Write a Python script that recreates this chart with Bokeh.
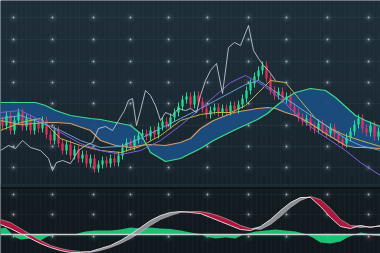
import numpy as np
from bokeh.plotting import figure
from bokeh.models import Range1d, FixedTicker, Span
from bokeh.embed import file_html
from bokeh.resources import INLINE

# ---------------- data ----------------
# candle closes (one bar every 4 time units, starting at t=2)
CLOSE = [75, 85, 70, 80, 88, 74, 82, 70, 78, 72,
         80, 66, 60, 70, 57, 50, 56, 45, 51, 42,
         46, 37, 42, 32, 36, 40, 37, 42, 38, 45,
         53, 58, 54, 61, 65, 67, 64, 70, 66, 74,
         79, 76, 83, 88, 94, 101, 104, 96, 105, 99,
         92, 86, 90, 93, 88, 92, 89, 95, 91, 96,
         102, 110, 117, 124, 130, 135, 122, 110, 105, 109,
         101, 104, 94, 88, 83, 79, 82, 74, 71, 77,
         71, 67, 73, 66, 61, 57, 63, 69, 76, 82,
         72, 68, 75, 64, 69]
FIRST_OPEN = 80

# Ichimoku cloud (senkou span A / B)
CLOUD_T = [0, 20, 35, 45, 55, 70, 90, 100, 115, 130, 140, 150, 165, 180, 190, 200, 213,
           233, 257, 267, 275, 285, 295, 310, 325, 335, 345, 355, 365, 380]
SPAN_A = [98, 98, 98, 95, 90, 85, 82, 81, 78, 75, 67, 48, 39, 42, 47, 52, 60,
          70, 81, 87, 94, 102, 108, 112, 110, 103, 94, 85, 80, 74]
SPAN_B = [80, 76, 77, 78, 78, 77, 70, 60, 55, 53, 55, 56, 55, 58, 62, 72, 80,
          88, 92, 93, 92, 88, 85, 77, 67, 61, 55, 53, 53, 52]

# moving-average style lines
LINE_T = [0, 20, 40, 60, 80, 100, 120, 140, 160, 180, 200, 215, 230, 245, 258, 270,
          285, 300, 315, 330, 345, 360, 380]
PURPLE = [88, 90, 80, 68, 57, 50, 46, 50, 60, 75, 92, 105, 118, 125, 118, 110,
          97, 82, 70, 60, 50, 38, 25]
LIGHTBLUE = [82, 85, 78, 70, 60, 53, 54, 62, 72, 82, 92, 100, 108, 116, 120, 112,
             102, 92, 82, 72, 62, 55, 50]
OLIVE = [70, 78, 82, 62, 55, 50, 48, 54, 65, 80, 86, 88, 88, 95, 108, 120,
         118, 100, 82, 72, 65, 60, 54]

# lagging span
LAG_T = [0, 8, 15, 22, 30, 40, 48, 52, 56, 62, 70, 78, 85, 92, 98, 105, 112, 118, 124, 128,
         132, 136, 140, 145, 150, 155, 160, 165, 172, 178, 185, 190, 196, 200, 205, 210,
         216, 222, 228, 234, 240, 248, 253, 258, 263, 268, 275]
LAG = [50, 55, 52, 60, 53, 50, 42, 30, 38, 40, 37, 50, 55, 58, 72, 74, 70, 80, 90, 100,
       102, 75, 90, 110, 105, 95, 80, 88, 85, 92, 90, 92, 88, 105, 120, 130,
       137, 107, 153, 158, 155, 175, 150, 142, 135, 130, 120]

# MACD panel
MACD_T = list(range(0, 381, 10))
MACD_FAST = [1.0, 0.6, 0.1, -0.4, -0.9, -1.3, -1.6, -1.8, -1.8, -1.7,
             -1.4, -1.1, -0.6, 0.0, 0.7, 1.4, 1.9, 2.2, 2.3, 2.2,
             2.1, 1.7, 1.3, 0.9, 0.5, 0.4, 0.8, 1.5, 2.4, 3.2,
             3.7, 3.7, 2.8, 1.7, 0.8, 0.6, 0.9, 0.7, 0.9]
MACD_SLOW = [1.5, 1.2, 0.6, 0.0, -0.6, -1.1, -1.4, -1.6, -1.7, -1.8,
             -1.6, -1.3, -0.9, -0.4, 0.2, 0.9, 1.5, 1.9, 2.2, 2.3,
             2.3, 2.1, 1.8, 1.4, 0.9, 0.6, 0.5, 1.0, 1.8, 2.7,
             3.4, 3.8, 3.5, 2.6, 1.5, 0.9, 0.7, 0.8, 0.8]
HIST_T = [0, 5, 10, 15, 20, 30, 40, 47, 55, 65, 75, 85, 95, 110, 120, 130, 140, 150, 160, 170,
          180, 190, 200, 205, 215, 225, 235, 243, 255, 265, 275, 285, 295, 305, 312, 320,
          330, 340, 347, 352, 360, 366, 372, 380]
HIST = [0.6, 0.7, 0.2, -0.3, -0.5, -0.4, -0.6, -0.2, -0.05, 0.0,
        0.05, 0.3, 0.4, 0.4, 0.5, 0.7, 0.6, 0.7, 0.6, 0.55,
        0.4, 0.2, 0.05, -0.2, -0.4, -0.3, -0.4, 0.0, 0.3, 0.4,
        0.5, 0.4, 0.3, 0.05, -0.3, -0.8, -0.9, -0.7, -0.3, -0.1,
        0.2, 0.1, -0.1, -0.15]

# ---------------- figure ----------------
W, H = 380, 253
p = figure(width=W, height=H, output_backend="svg", toolbar_location=None,
           x_range=Range1d(0, 380), y_range=Range1d(-53, 200),
           min_border=0, outline_line_color=None,
           background_fill_color="#18252e", border_fill_color="#18252e")
p.extra_y_ranges = {"macd": Range1d(-1.9, 23.4)}
p.xaxis.visible = False
p.yaxis.visible = False

# background gradient (decoration)
stops_px = [0, 90, 184, 190, 253]
stops_col = [(0x1f, 0x2f, 0x3a), (0x1c, 0x2b, 0x35), (0x17, 0x23, 0x2b),
             (0x13, 0x1c, 0x21), (0x12, 0x19, 0x1e)]
img = np.empty((H, 1), dtype=np.uint32)
view = img.view(dtype=np.uint8).reshape((H, 1, 4))
for r in range(H):
    px = H - 1 - r
    for c in range(3):
        view[r, 0, c] = int(np.interp(px, stops_px, [s[c] for s in stops_col]))
    view[r, 0, 3] = 255
bg = p.image_rgba(image=[img], x=0, y=-53, dw=380, dh=253)
bg.level = "image"

# fine grid
dot_x = [13, 52, 93, 130, 168, 207, 248, 286, 327, 368]
dot_rows_px = [17, 39, 61, 82, 103, 125, 146, 167, 194, 214, 236]
dot_y = [200 - v for v in dot_rows_px]
p.xgrid.ticker = FixedTicker(ticks=list(np.arange(1, 381, 4.9)))
p.xgrid.grid_line_color = "#9fb4c2"
p.xgrid.grid_line_alpha = 0.035
p.ygrid.ticker = FixedTicker(ticks=dot_y)
p.ygrid.grid_line_color = "#9fb4c2"
p.ygrid.grid_line_alpha = 0.06

# panel divider
p.add_layout(Span(location=12.5, dimension="width", line_color="#0d1418", line_width=2))
p.add_layout(Span(location=15, dimension="width", line_color="#223039", line_width=3, line_alpha=0.6))

# glowing dots
gx = [x for x in dot_x for _ in dot_y]
gy = [y for _ in dot_x for y in dot_y]
p.scatter(gx, gy, size=10, fill_color="#cfe6f5", fill_alpha=0.04, line_color=None)
p.scatter(gx, gy, size=5, fill_color="#dff0ff", fill_alpha=0.09, line_color=None)
p.scatter(gx, gy, size=1.8, fill_color="#ffffff", fill_alpha=0.6, line_color=None)

# cloud
a = np.array(SPAN_A, float)
b = np.array(SPAN_B, float)
p.varea(x=CLOUD_T, y1=a, y2=b, fill_color="#1b4d80", fill_alpha=0.95)

# candles
close = np.array(CLOSE, float)
opn = np.r_[FIRST_OPEN, close[:-1]]
t = 4 * np.arange(len(close)) + 2
up = close >= opn
hi = np.maximum(opn, close) + 4
lo = np.minimum(opn, close) - 4
green, red = "#20df90", "#e42c56"
p.segment(t[up], hi[up], t[up], lo[up], line_color=green, line_width=1)
p.segment(t[~up], hi[~up], t[~up], lo[~up], line_color=red, line_width=1)
p.vbar(x=t[up], width=2.3, top=close[up], bottom=opn[up], fill_color=green, line_color=None)
p.vbar(x=t[~up], width=2.3, top=opn[~up], bottom=close[~up], fill_color=red, line_color=None)

# lines
p.line(CLOUD_T, SPAN_B, line_color="#d69b6c", line_width=1.1)
p.line(CLOUD_T, SPAN_A, line_color="#3ddc8c", line_width=1.2)
p.line(LINE_T, OLIVE, line_color="#bdb24c", line_width=1)
p.line(LINE_T, LIGHTBLUE, line_color="#6aaee6", line_width=1, line_alpha=0.9)
p.line(LINE_T, PURPLE, line_color="#7c5fd8", line_width=1)
p.line(LAG_T, LAG, line_color="#c6ced5", line_width=1, line_alpha=0.85)

# MACD panel
p.varea(x=HIST_T, y1=0, y2=HIST, fill_color="#1fd27e", fill_alpha=0.9, y_range_name="macd")
p.add_layout(Span(location=0, dimension="width", line_color="#c9d3d8", line_width=1.3,
                  y_range_name="macd"))
fast = np.array(MACD_FAST)
slow = np.array(MACD_SLOW)
top = np.maximum(fast, slow)
p.varea(x=MACD_T, y1=fast, y2=top, fill_color="#b5173d", fill_alpha=0.95, y_range_name="macd")
p.varea(x=MACD_T, y1=slow, y2=top, fill_color="#8d979c", fill_alpha=0.95, y_range_name="macd")
p.line(MACD_T, MACD_SLOW, line_color="#d7b7c2", line_width=0.8, line_alpha=0.7, y_range_name="macd")
p.line(MACD_T, MACD_FAST, line_color="#eee4e8", line_width=1, line_alpha=0.9, y_range_name="macd")

open("out.html", "w").write(file_html(p, INLINE))
